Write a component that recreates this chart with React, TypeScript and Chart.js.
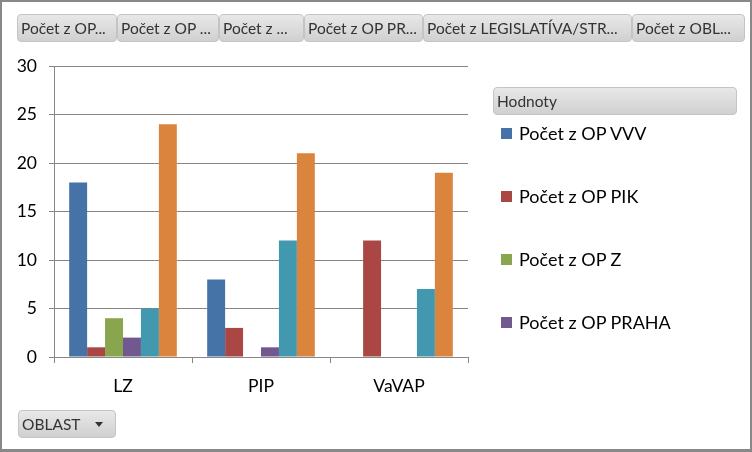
import React, { useEffect, useRef } from "react";
import { Chart, registerables } from "chart.js";

Chart.register(...registerables);

const categories = ["LZ", "PIP", "VaVAP"];
const seriesNames = [
  "Počet z OP VVV",
  "Počet z OP PIK",
  "Počet z OP Z",
  "Počet z OP PRAHA",
  "Počet z OP PR",
  "Počet z LEGISLATÍVA/STR",
];
const opVVV = [18, 8, 0];
const opPIK = [1, 3, 12];
const opZ = [4, 0, 0];
const opPRAHA = [2, 1, 0];
const opPR = [5, 12, 7];
const legislativa = [24, 21, 19];
const seriesColors = ["#4572A7", "#AA4643", "#89A54E", "#71588F", "#4198AF", "#DB843D"];
const yTicks = [0, 5, 10, 15, 20, 25, 30];
const fieldButtons = [
  "Počet z OP...",
  "Počet z OP ...",
  "Počet z ...",
  "Počet z OP PR...",
  "Počet z LEGISLATÍVA/STR...",
  "Počet z OBL...",
];
const buttonEdges = [17, 117, 219, 304, 423, 632, 745];
const legendShown = 4;

const FONT = "Lato, 'Open Sans', sans-serif";

const btnStyle: React.CSSProperties = {
  position: "absolute",
  boxSizing: "border-box",
  height: 28,
  border: "1px solid #c4c4c4",
  borderRadius: 4,
  background: "linear-gradient(#e8e8e8, #d0d0d0)",
  color: "#333",
  fontFamily: FONT,
  fontSize: 15.5,
  lineHeight: "26px",
  whiteSpace: "nowrap",
  overflow: "hidden",
};

export default function App() {
  const ref = useRef<HTMLCanvasElement | null>(null);

  useEffect(() => {
    if (!ref.current) return;
    const values = [opVVV, opPIK, opZ, opPRAHA, opPR, legislativa];
    const chart = new Chart(ref.current, {
      type: "bar",
      data: {
        labels: categories,
        datasets: values.map((v, i) => ({
          label: seriesNames[i],
          data: v,
          backgroundColor: seriesColors[i],
          borderWidth: 0,
          categoryPercentage: 0.78,
          barPercentage: 1,
        })),
      },
      options: {
        animation: false,
        responsive: false,
        devicePixelRatio: 1,
        layout: { padding: { left: 4, top: 66, right: 284, bottom: 55 } },
        plugins: { legend: { display: false }, tooltip: { enabled: false } },
        scales: {
          x: {
            offset: true,
            grid: {
              offset: true,
              drawOnChartArea: false,
              drawTicks: true,
              tickLength: 6,
              color: "#868686",
            },
            border: { color: "#868686", width: 1 },
            ticks: {
              color: "#000",
              font: { family: FONT, size: 17.5 },
              padding: 13,
            },
            afterFit: (s: any) => {
              s.height = 40;
            },
          },
          y: {
            min: 0,
            max: 30,
            afterBuildTicks: (s: any) => {
              s.ticks = yTicks.map((v) => ({ value: v }));
            },
            grid: { color: "#868686", tickLength: 5, drawTicks: true },
            border: { color: "#868686", width: 1 },
            ticks: {
              color: "#000",
              font: { family: FONT, size: 17.5 },
              padding: 12,
            },
            afterFit: (s: any) => {
              s.width = 50;
            },
          },
        },
      },
    });
    return () => chart.destroy();
  }, []);

  return (
    <div
      style={{
        position: "fixed",
        left: 0,
        top: 0,
        width: 752,
        height: 452,
        background: "#fff",
        boxSizing: "border-box",
        border: "2px solid #888",
        borderBottomWidth: 3,
        overflow: "hidden",
      }}
    >
      <canvas
        ref={ref}
        width={752}
        height={452}
        style={{ position: "absolute", left: -2, top: -2, width: 752, height: 452 }}
      />
      {fieldButtons.map((t, i) => (
        <div
          key={i}
          style={{
            ...btnStyle,
            left: buttonEdges[i] - 2,
            top: 12,
            width: buttonEdges[i + 1] - buttonEdges[i],
            paddingLeft: 3,
          }}
        >
          {t}
        </div>
      ))}
      <div
        style={{
          ...btnStyle,
          left: 491,
          top: 85,
          width: 244,
          fontSize: 15.5,
          paddingLeft: 3,
        }}
      >
        Hodnoty
      </div>
      {seriesNames.slice(0, legendShown).map((n, i) => (
        <div
          key={n}
          style={{
            position: "absolute",
            left: 499,
            top: 118 + i * 63,
            height: 26,
            display: "flex",
            alignItems: "center",
            fontFamily: FONT,
            fontSize: 18,
            color: "#000",
            whiteSpace: "nowrap",
          }}
        >
          <span
            style={{
              display: "inline-block",
              width: 11,
              height: 11,
              background: seriesColors[i],
              marginRight: 7,
            }}
          />
          {n}
        </div>
      ))}
      <div
        style={{
          ...btnStyle,
          left: 16,
          top: 408,
          width: 98,
          paddingLeft: 3,
        }}
      >
        OBLAST
        <span
          style={{
            position: "absolute",
            right: 12,
            top: 11,
            width: 0,
            height: 0,
            borderLeft: "4px solid transparent",
            borderRight: "4px solid transparent",
            borderTop: "5px solid #333",
          }}
        />
      </div>
    </div>
  );
}
